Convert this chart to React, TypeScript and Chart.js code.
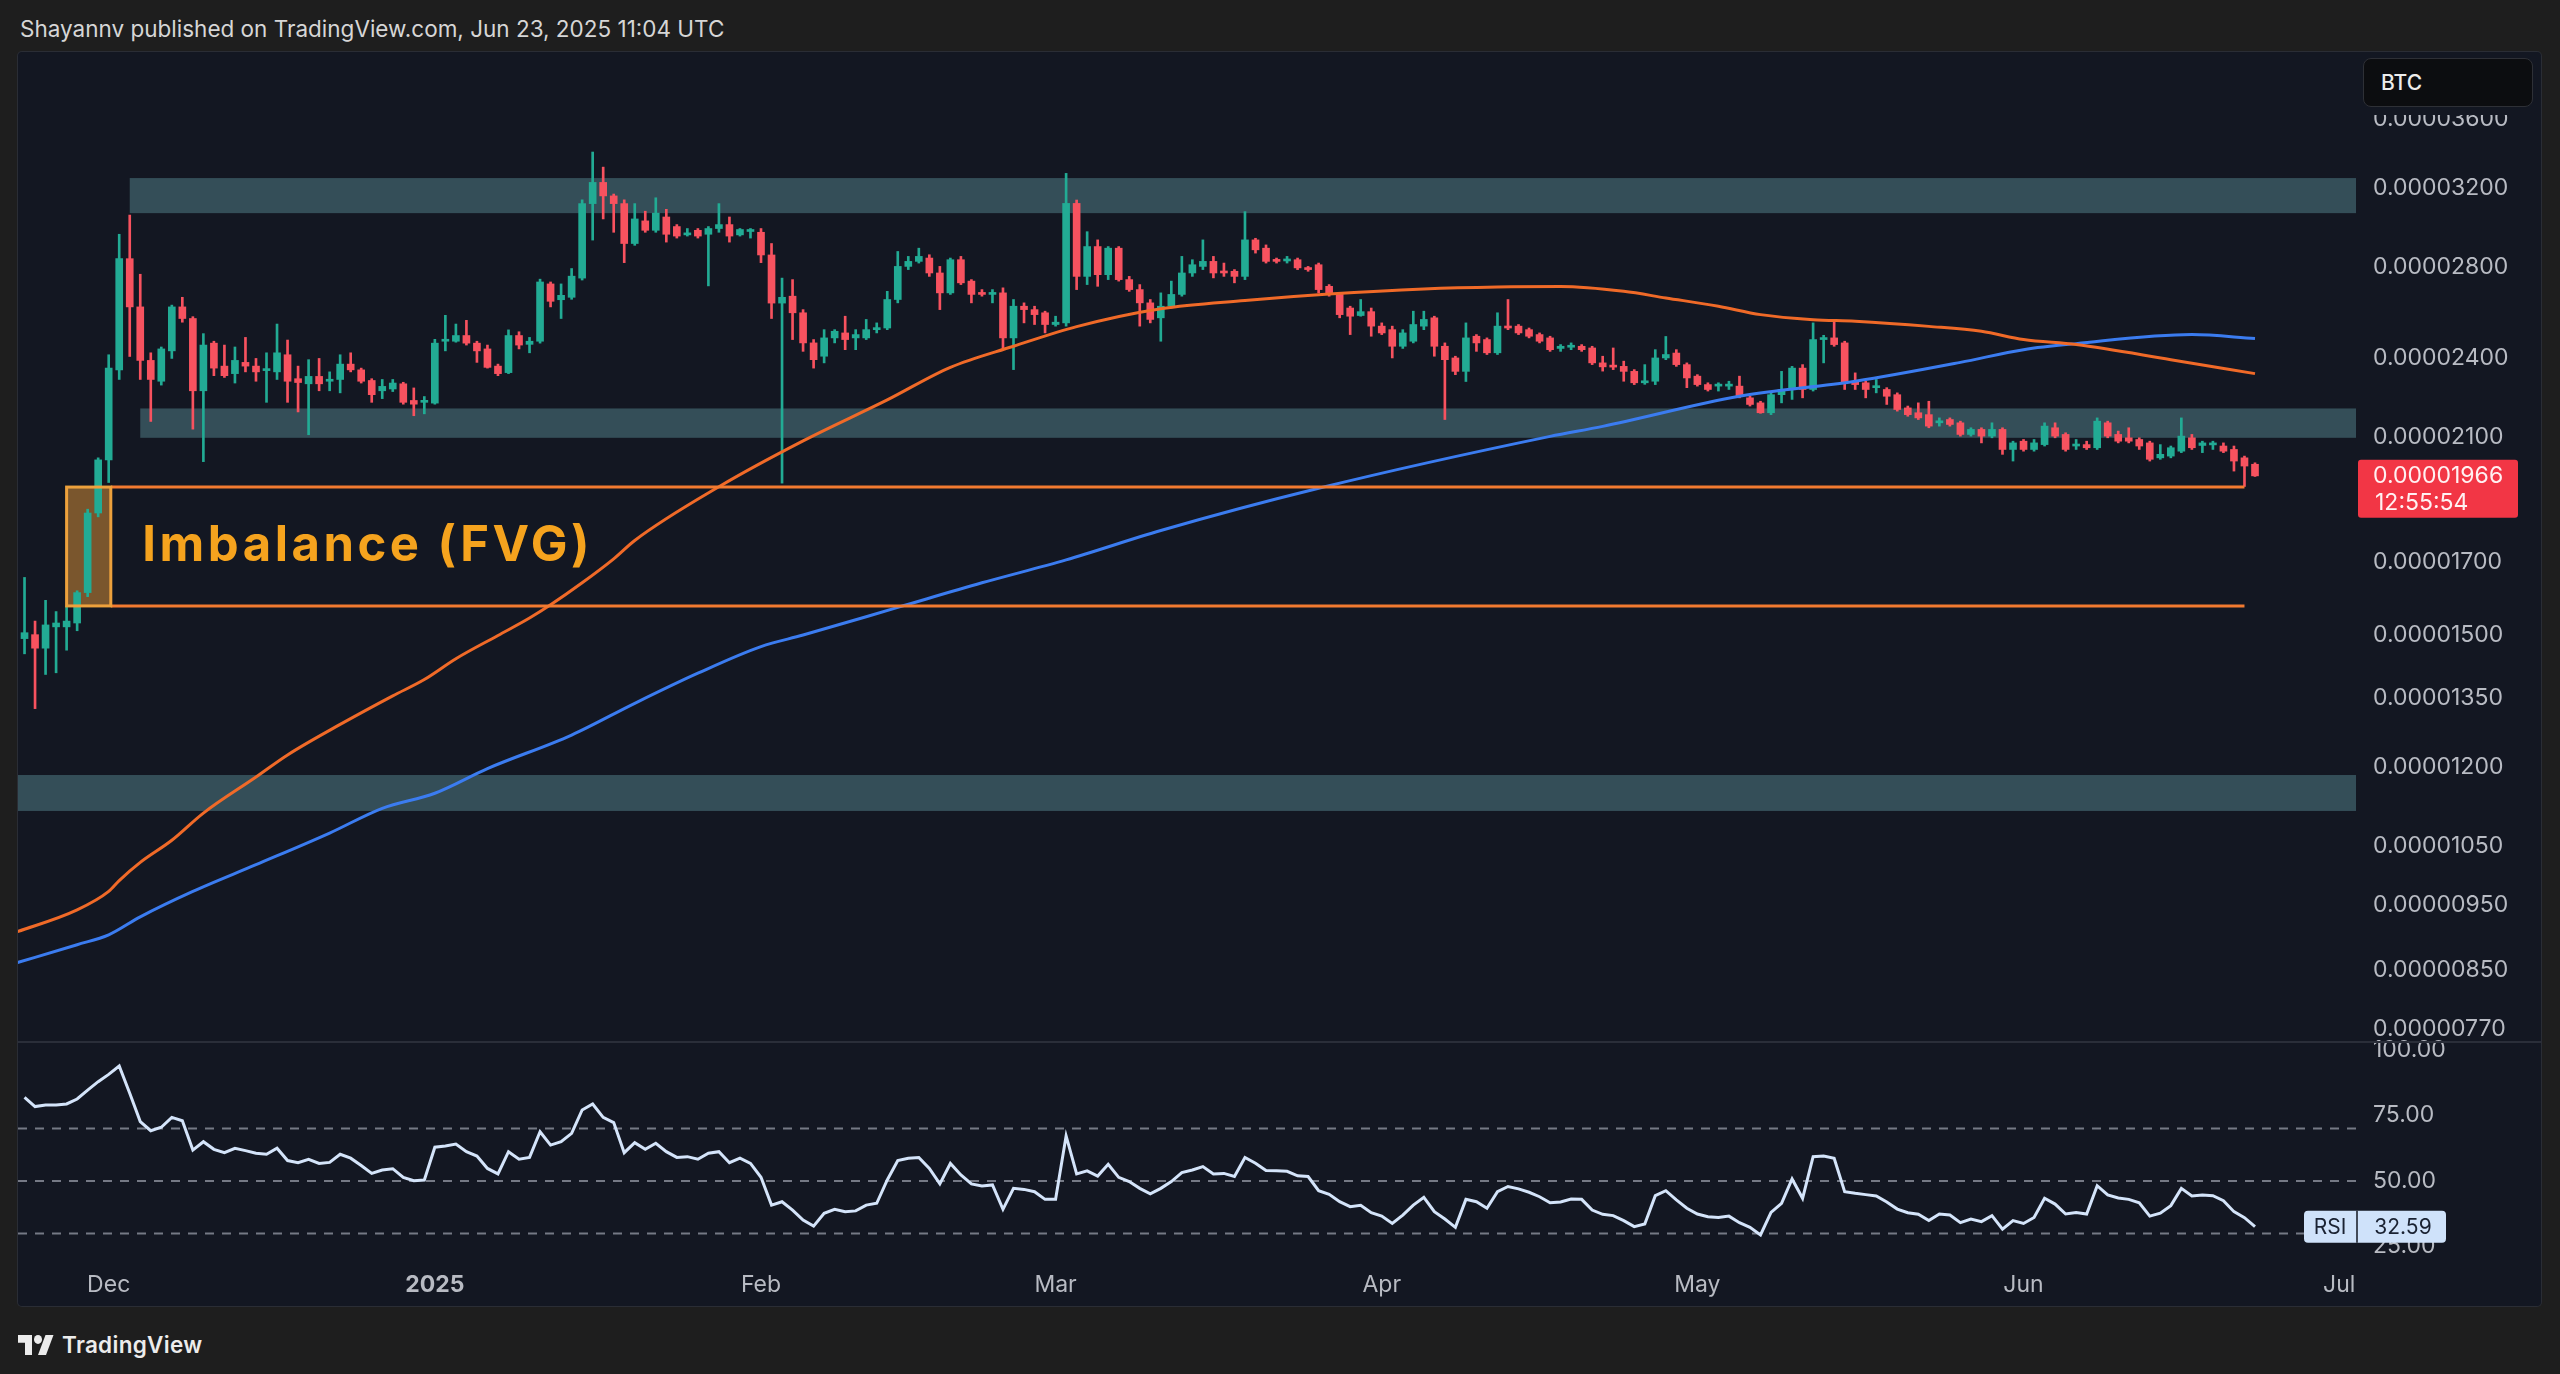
import React, { useEffect, useRef } from 'react';
import { Chart, registerables } from 'chart.js';

Chart.register(...registerables);

// ---- DATA (prices in satoshi units, i.e. 1e-8 BTC) ----
// daily candles, index 0 = Nov 23, 2024, last = Jun 23, 2025
const START_DATE = '2024-11-23';
const OPEN = [
  1492, 1502, 1468, 1522, 1522, 1532, 1613, 1846, 2020, 2353,
  2841, 2618, 2391, 2308, 2430, 2618, 2567, 2271, 2462, 2368,
  2338, 2383, 2368, 2350, 2345, 2414, 2318, 2298, 2327, 2308,
  2315, 2376, 2353, 2311, 2271, 2278, 2298, 2234, 2227, 2224,
  2470, 2470, 2494, 2462, 2438, 2368, 2342, 2494, 2457, 2470,
  2722, 2650, 2661, 2749, 3119, 3233, 3160, 3119, 2915, 3029,
  2981, 3049, 3000, 2958, 2981, 2961, 2990, 3010, 2958, 2975,
  2971, 2859, 2635, 2666, 2592, 2463, 2408, 2484, 2505, 2484,
  2484, 2519, 2526, 2651, 2804, 2828, 2844, 2773, 2681, 2836,
  2735, 2681, 2674, 2681, 2484, 2621, 2606, 2592, 2541, 2548,
  3120, 2757, 2900, 2765, 2892, 2742, 2696, 2636, 2570, 2621,
  2674, 2773, 2804, 2828, 2781, 2781, 2757, 2933, 2892, 2836,
  2830, 2836, 2797, 2812, 2711, 2674, 2613, 2580, 2597, 2534,
  2519, 2449, 2470, 2534, 2570, 2449, 2401, 2347, 2491, 2477,
  2422, 2534, 2534, 2519, 2498, 2484, 2440, 2445, 2449, 2442,
  2381, 2367, 2367, 2347, 2302, 2308, 2401, 2421, 2374, 2328,
  2295, 2289, 2289, 2289, 2244, 2225, 2188, 2256, 2276, 2360,
  2276, 2477, 2484, 2463, 2308, 2302, 2283, 2276, 2256, 2206,
  2188, 2181, 2151, 2163, 2151, 2109, 2127, 2103, 2127, 2056,
  2085, 2056, 2073, 2133, 2109, 2068, 2073, 2062, 2151, 2109,
  2097, 2091, 2079, 2027, 2033, 2050, 2097, 2070, 2072, 2068,
  2056, 2027, 2005,
];
const HIGH = [
  1655, 1537, 1592, 1562, 1577, 1618, 1858, 2027, 2414, 2961,
  3059, 2767, 2422, 2446, 2626, 2661, 2575, 2502, 2470, 2454,
  2446, 2486, 2399, 2422, 2543, 2475, 2368, 2394, 2399, 2345,
  2414, 2422, 2360, 2318, 2315, 2315, 2304, 2282, 2249, 2478,
  2581, 2543, 2559, 2470, 2454, 2376, 2518, 2510, 2486, 2744,
  2731, 2722, 2794, 3139, 3404, 3318, 3170, 3139, 3119, 3079,
  3150, 3089, 3010, 2990, 2990, 3000, 3119, 3049, 2990, 2990,
  2990, 2915, 2749, 2742, 2606, 2477, 2519, 2519, 2577, 2519,
  2563, 2548, 2688, 2876, 2852, 2892, 2860, 2804, 2844, 2852,
  2742, 2696, 2696, 2704, 2651, 2636, 2621, 2599, 2577, 3283,
  3138, 2974, 2933, 2900, 2900, 2757, 2719, 2651, 2681, 2735,
  2852, 2836, 2933, 2852, 2820, 2789, 3077, 2941, 2908, 2844,
  2852, 2844, 2804, 2820, 2719, 2681, 2621, 2651, 2613, 2548,
  2534, 2519, 2599, 2599, 2577, 2463, 2408, 2548, 2498, 2484,
  2592, 2651, 2541, 2526, 2505, 2491, 2456, 2463, 2456, 2449,
  2408, 2442, 2388, 2354, 2374, 2435, 2490, 2435, 2381, 2334,
  2302, 2302, 2308, 2328, 2250, 2231, 2263, 2347, 2367, 2374,
  2548, 2495, 2555, 2470, 2341, 2308, 2315, 2283, 2263, 2213,
  2225, 2231, 2169, 2169, 2157, 2133, 2133, 2151, 2133, 2085,
  2091, 2091, 2151, 2151, 2115, 2091, 2085, 2169, 2157, 2121,
  2133, 2097, 2085, 2073, 2068, 2169, 2109, 2085, 2085, 2079,
  2068, 2033, 2010,
];
const LOW = [
  1454, 1325, 1404, 1408, 1463, 1512, 1602, 1834, 1944, 2315,
  2407, 2315, 2156, 2293, 2399, 2551, 2128, 2014, 2330, 2323,
  2301, 2345, 2308, 2227, 2315, 2227, 2191, 2108, 2271, 2271,
  2263, 2345, 2301, 2227, 2241, 2268, 2220, 2177, 2184, 2220,
  2430, 2466, 2454, 2383, 2360, 2330, 2338, 2438, 2422, 2462,
  2618, 2567, 2652, 2740, 2932, 3039, 2971, 2822, 2906, 2971,
  2971, 2922, 2942, 2952, 2942, 2713, 2971, 2922, 2952, 2942,
  2822, 2567, 1942, 2477, 2428, 2360, 2381, 2463, 2435, 2435,
  2477, 2505, 2519, 2636, 2789, 2820, 2757, 2606, 2674, 2719,
  2636, 2666, 2636, 2435, 2354, 2548, 2541, 2505, 2534, 2534,
  2696, 2719, 2711, 2742, 2735, 2688, 2534, 2548, 2470, 2613,
  2666, 2757, 2789, 2750, 2757, 2727, 2742, 2868, 2820, 2820,
  2820, 2789, 2781, 2681, 2666, 2570, 2498, 2577, 2491, 2498,
  2401, 2440, 2463, 2519, 2408, 2163, 2334, 2307, 2428, 2415,
  2415, 2519, 2498, 2484, 2463, 2428, 2428, 2435, 2428, 2374,
  2348, 2354, 2308, 2295, 2296, 2295, 2394, 2367, 2283, 2289,
  2270, 2270, 2276, 2244, 2213, 2186, 2181, 2225, 2238, 2244,
  2270, 2381, 2449, 2276, 2276, 2244, 2263, 2219, 2194, 2175,
  2163, 2133, 2139, 2139, 2103, 2103, 2079, 2097, 2039, 2016,
  2050, 2050, 2068, 2097, 2050, 2056, 2056, 2056, 2097, 2079,
  2079, 2056, 2016, 2022, 2027, 2045, 2056, 2045, 2056, 2045,
  1982, 1931, 1964,
];
const CLOSE = [
  1507, 1468, 1527, 1532, 1537, 1613, 1846, 2020, 2360, 2841,
  2618, 2391, 2315, 2438, 2618, 2567, 2271, 2454, 2360, 2330,
  2391, 2368, 2345, 2353, 2422, 2308, 2303, 2327, 2298, 2315,
  2376, 2353, 2308, 2256, 2288, 2301, 2227, 2220, 2234, 2462,
  2478, 2494, 2462, 2430, 2363, 2338, 2494, 2454, 2470, 2731,
  2643, 2670, 2758, 3119, 3233, 3160, 3119, 2915, 3039, 2981,
  3069, 2961, 2952, 2965, 2952, 2990, 3010, 2952, 2985, 2981,
  2859, 2635, 2661, 2592, 2463, 2394, 2484, 2512, 2477, 2498,
  2519, 2526, 2651, 2804, 2828, 2852, 2773, 2681, 2836, 2727,
  2674, 2674, 2681, 2484, 2621, 2606, 2584, 2541, 2551, 3120,
  2757, 2900, 2765, 2892, 2742, 2696, 2636, 2563, 2621, 2674,
  2773, 2812, 2828, 2773, 2773, 2757, 2933, 2884, 2828, 2828,
  2839, 2797, 2789, 2696, 2674, 2584, 2577, 2597, 2534, 2505,
  2449, 2505, 2541, 2563, 2449, 2394, 2347, 2484, 2463, 2422,
  2534, 2526, 2505, 2491, 2470, 2435, 2449, 2452, 2435, 2381,
  2365, 2364, 2347, 2302, 2308, 2401, 2415, 2374, 2321, 2295,
  2276, 2292, 2296, 2250, 2219, 2188, 2256, 2276, 2360, 2276,
  2477, 2484, 2456, 2302, 2295, 2276, 2289, 2250, 2200, 2181,
  2169, 2139, 2157, 2145, 2109, 2127, 2103, 2127, 2056, 2079,
  2056, 2079, 2139, 2103, 2056, 2073, 2062, 2157, 2103, 2085,
  2085, 2068, 2022, 2039, 2062, 2103, 2062, 2079, 2079, 2050,
  2016, 1999, 1966,
];
const RSI = [
  81.9, 78.4, 79, 79, 79.4, 81.3, 84.7, 87.9, 90.7, 93.9,
  83.5, 72.7, 69.2, 70.5, 74.3, 73, 61.8, 65, 62.1, 60.8,
  62.5, 61.6, 60.6, 60.2, 62.5, 57.8, 57, 58.3, 56.7, 57.1,
  60.2, 58.7, 55.9, 52.9, 54.2, 54.7, 51.4, 50.1, 50.4, 62.9,
  63.4, 64.1, 61.2, 59.5, 54.8, 52.7, 61.2, 58.3, 59, 68.8,
  63.7, 65, 68.2, 77.1, 79.4, 74.3, 72.3, 60.8, 64.6, 62.1,
  64.4, 61.2, 59, 59.3, 58.3, 60.6, 61.2, 57, 58.7, 56.7,
  51.4, 40.8, 42.1, 38.9, 35.1, 32.8, 37.7, 39.2, 38.3, 38.6,
  40.8, 41.5, 50.4, 57.8, 58.7, 59, 54.8, 48.9, 56.7, 52.3,
  48.9, 48.1, 48.5, 39.2, 47.2, 46.8, 45.9, 43, 43, 67.2,
  52.7, 53.9, 51.9, 56.4, 51.4, 49.8, 47.2, 45.1, 47.2, 49.8,
  53.2, 54.2, 55.5, 52.7, 52.9, 51.7, 59, 56.8, 54, 53.9,
  53.7, 52, 51.7, 46.3, 44.9, 42.1, 40.2, 40.7, 37.9, 36.6,
  33.8, 37, 40.8, 43.8, 38.3, 35.5, 32.3, 43, 42.1, 39.6,
  45.9, 47.9, 47, 45.7, 44, 41.7, 42, 43.1, 43, 38.9,
  37.3, 36.8, 34.9, 32.6, 33.6, 44.4, 46.3, 42.8, 39.6, 37.4,
  36.4, 36.1, 36.6, 34.1, 32.3, 29.4, 38, 41.5, 50.8, 43.4,
  59.3, 59.5, 58.7, 45.9, 45.3, 44.8, 44.3, 42, 39.3, 37.9,
  37.3, 34.9, 37.4, 37, 34.1, 35.5, 34.5, 36.8, 31.6, 34.9,
  33.8, 36.1, 43.4, 41.2, 37.4, 38, 37.4, 48.2, 44.7, 43.5,
  43, 41.7, 36.6, 37.7, 40.6, 47.2, 44.3, 44.7, 44.4, 42.5,
  38.3, 36, 32.59,
];

// moving averages (read at selected days)
const MA_FAST_DAYS = [-1, 5, 8, 9, 11, 14, 17, 22, 25, 30, 35, 38, 41, 45, 48, 50, 53, 56, 58, 66, 74, 82, 88, 94, 100, 108, 116, 124, 133, 140, 146, 152, 156, 161, 165, 170, 174, 181, 186, 190, 195, 204, 212];
const MA_FAST = [906, 942, 972, 990, 1021, 1060, 1110, 1180, 1225, 1290, 1354, 1392, 1442, 1500, 1545, 1580, 1640, 1708, 1762, 1930, 2086, 2236, 2363, 2449, 2532, 2610, 2647, 2676, 2699, 2708, 2710, 2688, 2658, 2621, 2584, 2562, 2555, 2533, 2512, 2477, 2456, 2394, 2338];
const MA_SLOW_DAYS = [-1, 5, 8, 11, 16, 22, 29, 34, 39, 44, 52, 58, 64, 70, 74, 83, 91, 99, 108, 123, 145, 150, 163, 174, 184, 190, 195, 206, 212];
const MA_SLOW = [860, 888, 903, 931, 972, 1017, 1073, 1119, 1148, 1197, 1267, 1337, 1407, 1472, 1501, 1573, 1640, 1705, 1792, 1925, 2102, 2138, 2250, 2308, 2383, 2435, 2460, 2498, 2481];

// axes
const PRICE_TICKS = [3600, 3200, 2800, 2400, 2100, 1700, 1500, 1350, 1200, 1050, 950, 850, 770];
const RSI_TICKS = [100, 75, 50, 25];
const RSI_LEVELS = [70, 50, 30];
const MONTH_TICK_DAYS = [8, 39, 70, 98, 129, 159, 190, 220];
const MONTH_LABELS = ['Dec', '2025', 'Feb', 'Mar', 'Apr', 'May', 'Jun', 'Jul'];
const X_MIN = -0.62;
const X_MAX = 221.6;
const PRICE_MIN = 753;
const PRICE_MAX = 4033;
const RSI_MIN = 21;
const RSI_MAX = 103.05;

// drawings
const ZONE_FROM = [10, 11, -2];
const ZONE_LOW = [3069, 2097, 1114];
const ZONE_HIGH = [3257, 2204, 1184];
const FVG_FROM = 4;
const FVG_BOX_TO = 8.2;
const FVG_TO = 211;
const FVG_LOW = 1577;
const FVG_HIGH = 1929;
const FVG_TEXT = 'Imbalance (FVG)';
const FVG_TEXT_DAY = 11.2;
const FVG_TEXT_PRICE = 1702;
const COUNTDOWN = '12:55:54';

const FONT = 'Inter, "Noto Sans", sans-serif';
const AXIS_TEXT = '#b8bbc3';
const UP = '#22ab94';
const DOWN = '#f7525f';
const ZONE_COLOR = '#344e58';

Chart.defaults.font.family = FONT;

const fmtPrice = (v: number) => (v / 1e8).toFixed(8);

function roundRect(ctx: any, x: number, y: number, w: number, h: number, r: number) {
  ctx.beginPath();
  ctx.moveTo(x + r, y);
  ctx.lineTo(x + w - r, y);
  ctx.quadraticCurveTo(x + w, y, x + w, y + r);
  ctx.lineTo(x + w, y + h - r);
  ctx.quadraticCurveTo(x + w, y + h, x + w - r, y + h);
  ctx.lineTo(x + r, y + h);
  ctx.quadraticCurveTo(x, y + h, x, y + h - r);
  ctx.lineTo(x, y + r);
  ctx.quadraticCurveTo(x, y, x + r, y);
  ctx.closePath();
}

const overlay = {
  id: 'overlay',
  beforeDatasetsDraw(chart: any) {
    const { ctx, chartArea, scales } = chart;
    const xs = scales.x;
    const ys = scales.y;
    ctx.save();
    ctx.beginPath();
    ctx.rect(chartArea.left, ys.top, chartArea.right - chartArea.left, ys.bottom - ys.top);
    ctx.clip();
    ctx.fillStyle = ZONE_COLOR;
    for (let k = 0; k < ZONE_FROM.length; k++) {
      const x0 = Math.max(chartArea.left, xs.getPixelForValue(ZONE_FROM[k]));
      const y0 = ys.getPixelForValue(ZONE_HIGH[k]);
      const y1 = ys.getPixelForValue(ZONE_LOW[k]);
      ctx.fillRect(x0, y0, chartArea.right - x0, y1 - y0);
    }
    const bx0 = xs.getPixelForValue(FVG_FROM);
    const bx1 = xs.getPixelForValue(FVG_BOX_TO);
    const by0 = ys.getPixelForValue(FVG_HIGH);
    const by1 = ys.getPixelForValue(FVG_LOW);
    ctx.fillStyle = 'rgba(226,150,55,0.5)';
    ctx.fillRect(bx0, by0, bx1 - bx0, by1 - by0);
    ctx.restore();
  },
  afterDatasetsDraw(chart: any) {
    const { ctx, chartArea, scales } = chart;
    const xs = scales.x;
    const ys = scales.y;
    ctx.save();
    ctx.beginPath();
    ctx.rect(chartArea.left, ys.top, chartArea.right - chartArea.left, ys.bottom - ys.top);
    ctx.clip();
    const x0 = xs.getPixelForValue(FVG_FROM);
    const x1 = xs.getPixelForValue(FVG_TO);
    const bx1 = xs.getPixelForValue(FVG_BOX_TO);
    const y0 = ys.getPixelForValue(FVG_HIGH);
    const y1 = ys.getPixelForValue(FVG_LOW);
    ctx.strokeStyle = '#f27a30';
    ctx.lineWidth = 3;
    ctx.beginPath();
    ctx.moveTo(bx1, y0); ctx.lineTo(x1, y0);
    ctx.moveTo(bx1, y1); ctx.lineTo(x1, y1);
    ctx.stroke();
    ctx.strokeStyle = '#eda13c';
    ctx.strokeRect(x0, y0, bx1 - x0, y1 - y0);
    ctx.fillStyle = '#f5a31e';
    ctx.font = `700 49px ${FONT}`;
    (ctx as any).letterSpacing = '3.5px';
    ctx.textAlign = 'left';
    ctx.textBaseline = 'alphabetic';
    ctx.fillText(FVG_TEXT, xs.getPixelForValue(FVG_TEXT_DAY), ys.getPixelForValue(FVG_TEXT_PRICE));
    (ctx as any).letterSpacing = '0px';
    ctx.restore();
  },
  afterDraw(chart: any) {
    const { ctx, chartArea, scales } = chart;
    const ys = scales.y;
    const rs = scales.rsi;
    ctx.save();
    // pane separator
    ctx.strokeStyle = '#2a2e39';
    ctx.lineWidth = 2;
    ctx.beginPath();
    ctx.moveTo(0, rs.top);
    ctx.lineTo(chart.width, rs.top);
    ctx.stroke();
    // last price badge
    const last = CLOSE[CLOSE.length - 1];
    const py = ys.getPixelForValue(last);
    ctx.fillStyle = '#f23645';
    roundRect(ctx, chartArea.right + 2, py - 16, 160, 58, 3);
    ctx.fill();
    ctx.fillStyle = '#fff1f2';
    ctx.font = `23px ${FONT}`;
    ctx.textAlign = 'left';
    ctx.textBaseline = 'middle';
    ctx.fillText(fmtPrice(last), chartArea.right + 17, py);
    ctx.fillText(COUNTDOWN, chartArea.right + 19, py + 27);
    // RSI badge
    const lastRsi = RSI[RSI.length - 1];
    const ry = rs.getPixelForValue(lastRsi);
    ctx.fillStyle = '#cfe2fa';
    roundRect(ctx, chartArea.right - 52, ry - 16, 142, 32, 4);
    ctx.fill();
    ctx.strokeStyle = '#131722';
    ctx.lineWidth = 1.5;
    ctx.beginPath();
    ctx.moveTo(chartArea.right + 1, ry - 16);
    ctx.lineTo(chartArea.right + 1, ry + 16);
    ctx.stroke();
    ctx.fillStyle = '#1a2232';
    ctx.font = `21px ${FONT}`;
    ctx.textAlign = 'center';
    ctx.fillText('RSI', chartArea.right - 26, ry + 1);
    ctx.fillText(lastRsi.toFixed(2), chartArea.right + 47, ry + 1);
    ctx.restore();
  },
};

const noPadV = (s: any) => {
  s.width = 185;
  s.paddingTop = 0;
  s.paddingBottom = 0;
};

export default function App() {
  const ref = useRef<HTMLCanvasElement>(null);

  useEffect(() => {
    const canvas = ref.current;
    if (!canvas) return;
    const colors = OPEN.map((o, i) => (CLOSE[i] >= o ? UP : DOWN));
    const wicks = OPEN.map((_, i) => ({ x: i, y: [LOW[i], HIGH[i]] }));
    const bodies = OPEN.map((o, i) => ({ x: i, y: [o, CLOSE[i]] }));
    const fast = MA_FAST_DAYS.map((d, i) => ({ x: d, y: MA_FAST[i] }));
    const slow = MA_SLOW_DAYS.map((d, i) => ({ x: d, y: MA_SLOW[i] }));
    const rsi = RSI.map((v, i) => ({ x: i, y: v }));
    const levelSets = RSI_LEVELS.map((lvl) => ({
      type: 'line' as const,
      data: [{ x: X_MIN, y: lvl }, { x: X_MAX, y: lvl }],
      yAxisID: 'rsi',
      borderColor: 'rgba(135,139,150,0.85)',
      borderWidth: 2,
      borderDash: [9, 8],
      pointRadius: 0,
      order: 3,
    }));

    const yTickFont = { family: FONT, size: 23 };

    const chart = new Chart(canvas, {
      type: 'bar',
      data: {
        datasets: [
          {
            type: 'bar',
            data: wicks as any,
            backgroundColor: colors,
            barThickness: 2,
            grouped: false,
            borderWidth: 0,
            order: 2,
          },
          {
            type: 'bar',
            data: bodies as any,
            backgroundColor: colors,
            barThickness: 7,
            grouped: false,
            borderWidth: 0,
            minBarLength: 2,
            order: 1,
          },
          {
            type: 'line',
            data: fast as any,
            borderColor: '#f06a28',
            borderWidth: 3,
            pointRadius: 0,
            cubicInterpolationMode: 'monotone',
            order: 0,
          },
          {
            type: 'line',
            data: slow as any,
            borderColor: '#3b7cf0',
            borderWidth: 3,
            pointRadius: 0,
            cubicInterpolationMode: 'monotone',
            order: 0,
          },
          ...levelSets,
          {
            type: 'line',
            data: rsi as any,
            yAxisID: 'rsi',
            borderColor: '#d4e4fa',
            borderWidth: 3,
            pointRadius: 0,
            order: 0,
          },
        ] as any,
      },
      options: {
        responsive: false,
        animation: false,
        events: [],
        layout: { padding: 0, autoPadding: false },
        plugins: { legend: { display: false }, tooltip: { enabled: false } },
        scales: {
          x: {
            type: 'linear',
            min: X_MIN,
            max: X_MAX,
            offset: false,
            bounds: 'data',
            grid: { display: false },
            border: { display: false },
            afterBuildTicks: (s: any) => {
              s.ticks = MONTH_TICK_DAYS.map((v) => ({ value: v }));
            },
            afterFit: (s: any) => {
              s.height = 49;
              s.paddingLeft = 0;
              s.paddingRight = 0;
            },
            ticks: {
              autoSkip: false,
              maxRotation: 0,
              padding: 6,
              color: AXIS_TEXT,
              font: (c: any) => ({ family: FONT, size: 23, weight: MONTH_LABELS[c.index] === '2025' ? 'bold' : 'normal' }),
              callback: (_v: any, i: number) => MONTH_LABELS[i],
            },
          },
          y: {
            type: 'logarithmic',
            position: 'right',
            stack: 'panes',
            stackWeight: 990,
            min: PRICE_MIN,
            max: PRICE_MAX,
            bounds: 'data',
            grid: { display: false, drawTicks: false },
            border: { display: false },
            afterBuildTicks: (s: any) => {
              s.ticks = PRICE_TICKS.map((v) => ({ value: v }));
            },
            afterFit: noPadV,
            ticks: {
              autoSkip: false,
              padding: 17,
              color: AXIS_TEXT,
              font: yTickFont,
              callback: (v: any) => fmtPrice(Number(v)),
            },
          },
          rsi: {
            type: 'linear',
            position: 'right',
            stack: 'panes',
            stackWeight: 215,
            min: RSI_MIN,
            max: RSI_MAX,
            bounds: 'data',
            grid: { display: false, drawTicks: false },
            border: { display: false },
            afterBuildTicks: (s: any) => {
              s.ticks = RSI_TICKS.map((v) => ({ value: v }));
            },
            afterFit: noPadV,
            ticks: {
              autoSkip: false,
              padding: 17,
              color: AXIS_TEXT,
              font: yTickFont,
              callback: (v: any) => Number(v).toFixed(2),
            },
          },
        } as any,
      },
      plugins: [overlay as any],
    });
    return () => chart.destroy();
  }, []);

  return (
    <div style={{ position: 'fixed', inset: 0, background: '#1e1e1e', overflow: 'hidden', fontFamily: FONT }} data-start={START_DATE}>
      <div style={{ position: 'absolute', left: 20, top: 16, fontSize: 22.5, lineHeight: '26px', color: '#d6d6d6', whiteSpace: 'nowrap' }}>
        Shayannv published on TradingView.com, Jun 23, 2025 11:04 UTC
      </div>
      <div
        style={{
          position: 'absolute',
          left: 18,
          top: 52,
          width: 2523,
          height: 1254,
          background: '#131722',
          borderRadius: 4,
          boxShadow: '0 0 0 1px #2a2d35',
          overflow: 'hidden',
        }}
      >
        <canvas ref={ref} width={2523} height={1254} style={{ display: 'block', width: 2523, height: 1254 }} />
        <div style={{ position: 'absolute', left: 2345, top: 6, width: 170, height: 57, background: '#131722' }} />
        <div
          style={{
            position: 'absolute',
            left: 2345,
            top: 6,
            width: 170,
            height: 49,
            boxSizing: 'border-box',
            background: '#0c0d10',
            border: '1px solid #2e3036',
            borderRadius: 8,
            display: 'flex',
            alignItems: 'center',
            paddingLeft: 17,
            color: '#ececec',
            fontSize: 21,
            fontWeight: 500,
          }}
        >
          BTC
        </div>
      </div>
      <div style={{ position: 'absolute', left: 18, top: 1331, display: 'flex', alignItems: 'center', gap: 8 }}>
        <svg width={36} height={20} viewBox="0 4 36 18" preserveAspectRatio="none">
          <path d="M14 22H7V11H0V4h14v18z" fill="#ececec" />
          <circle cx={20} cy={8} r={4} fill="#ececec" />
          <path d="M28 22h-8l7.5-18h8L28 22z" fill="#ececec" />
        </svg>
        <span style={{ color: '#ececec', fontSize: 22.5, fontWeight: 600, letterSpacing: 0.3 }}>TradingView</span>
      </div>
    </div>
  );
}
